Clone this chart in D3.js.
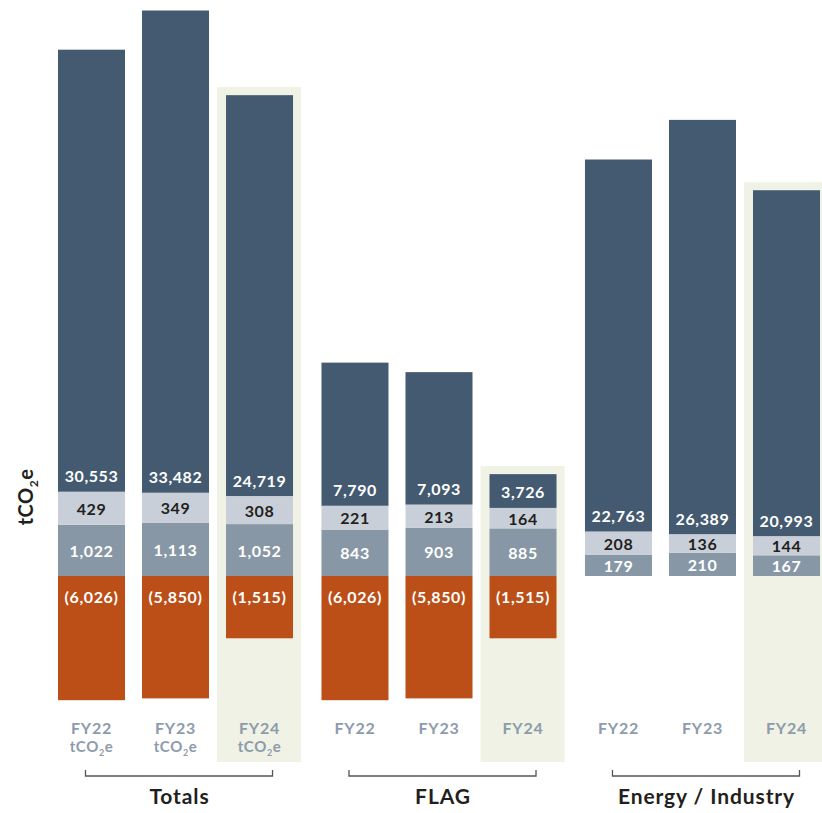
<!DOCTYPE html>
<html>
<head>
<meta charset="utf-8">
<script src="https://cdn.jsdelivr.net/npm/d3@7"></script>
<style>
  html, body { margin: 0; padding: 0; background: #ffffff; }
  svg { display: block; font-family: Lato, "Noto Sans", sans-serif; }
</style>
</head>
<body>
<script>
// Emission categories and reporting years
const groups = ["Totals", "FLAG", "Energy / Industry"];
const years = ["FY22", "FY23", "FY24"];
const highlightYear = "FY24";

// Values in tCO2e, ordered group by group (Totals, FLAG, Energy / Industry), FY22..FY24
const scope3 = [30553, 33482, 24719, 7790, 7093, 3726, 22763, 26389, 20993];
const scope2 = [429, 349, 308, 221, 213, 164, 208, 136, 144];
const scope1 = [1022, 1113, 1052, 843, 903, 885, 179, 210, 167];
const removals = [-6026, -5850, -1515, -6026, -5850, -1515, null, null, null];

const colors = {
  scope3: "#435a70",
  scope2: "#c9cfd8",
  scope1: "#8797a6",
  removals: "#bb4f17",
  highlight: "#eff2e4"
};

const W = 822, H = 813;
const zeroY = 576;
const bgBottom = 762;

const svg = d3.select("body").append("svg")
  .attr("width", W).attr("height", H);

// Horizontal layout: group bands, then year bands inside each group
const xGroup = d3.scaleBand().domain(groups).range([58, 820]).paddingInner(0.108).paddingOuter(0);
const xYear = d3.scaleBand().domain(years).range([0, xGroup.bandwidth()]).paddingInner(0.2024);

// Segment heights: large emissions on a piecewise scale, smaller ones on a root scale
const hLarge = d3.scaleLinear()
  .domain([0, 3700, 7000, 21000, 25000, 31000, 34000])
  .range([0, 33, 131, 346, 405, 445, 490]);
const hSmall = d3.scaleSqrt().domain([0, 10000]).range([0, 160]);

const fmt = d3.format(",");

const bars = scope3.map((_, i) => {
  const group = groups[Math.floor(i / years.length)];
  const year = years[i % years.length];
  const x = xGroup(group) + xYear(year);
  const segs = [];
  let y = zeroY;
  [["scope1", scope1[i], hSmall], ["scope2", scope2[i], hSmall], ["scope3", scope3[i], hLarge]]
    .forEach(([key, v, s]) => {
      const h = s(v);
      segs.push({ key, v, y0: y - h, y1: y });
      y -= h;
    });
  const neg = removals[i] == null ? null : { key: "removals", v: removals[i], y0: zeroY, y1: zeroY + hSmall(Math.abs(removals[i])) };
  return { group, year, x, segs, neg, top: y };
});

const bw = xYear.bandwidth();

// Highlight panels behind the latest year
svg.append("g").selectAll("rect")
  .data(bars.filter(d => d.year === highlightYear))
  .join("rect")
  .attr("x", d => d.x - 9)
  .attr("width", bw + 17)
  .attr("y", d => d.top - 8)
  .attr("height", d => bgBottom - (d.top - 8))
  .attr("fill", colors.highlight);

// Stacked bars
const barG = svg.append("g").selectAll("g").data(bars).join("g");
const segData = d => d.segs.concat(d.neg ? [d.neg] : []).map(s => Object.assign({ x: d.x }, s));

barG.selectAll("rect.seg")
  .data(segData)
  .join("rect")
  .attr("class", "seg")
  .attr("x", s => s.x)
  .attr("width", bw)
  .attr("y", s => s.y0)
  .attr("height", s => s.y1 - s.y0)
  .attr("fill", s => colors[s.key]);

// Value labels
barG.selectAll("text.val")
  .data(segData)
  .join("text")
  .attr("class", "val")
  .attr("text-anchor", "middle")
  .attr("dominant-baseline", "central")
  .attr("font-size", 16)
  .attr("font-weight", 700)
  .attr("letter-spacing", "0.6px")
  .attr("x", s => s.x + bw / 2)
  .attr("y", s => {
    if (s.key === "scope3") return s.y1 - 16;
    if (s.key === "removals") return s.y0 + 20;
    return (s.y0 + s.y1) / 2;
  })
  .attr("fill", s => s.key === "scope2" ? "#231f20" : "#ffffff")
  .text(s => s.v < 0 ? `(${fmt(-s.v)})` : fmt(s.v));

// Year labels under each bar
const yearG = svg.append("g").selectAll("g").data(bars).join("g");
yearG.append("text")
  .attr("x", d => d.x + bw / 2)
  .attr("y", 734)
  .attr("text-anchor", "middle")
  .attr("font-size", 16)
  .attr("font-weight", 700)
  .attr("letter-spacing", "0.8px")
  .attr("fill", "#8d9bab")
  .text(d => d.year);

// Unit line under the Totals years
const unitText = yearG.filter(d => d.group === groups[0]).append("text")
  .attr("x", d => d.x + bw / 2)
  .attr("y", 752)
  .attr("text-anchor", "middle")
  .attr("font-size", 15)
  .attr("font-weight", 700)
  .attr("letter-spacing", "0.6px")
  .attr("fill", "#8d9bab");
unitText.append("tspan").text("tCO");
unitText.append("tspan").attr("font-size", 9).attr("dy", 4).text("2");
unitText.append("tspan").attr("dy", -4).text("e");

// Group brackets and names
const groupG = svg.append("g").selectAll("g").data(groups).join("g");
groupG.append("path")
  .attr("d", g => {
    const a = xGroup(g) + xYear(years[0]) + bw / 2 - 6;
    const b = xGroup(g) + xYear(years[years.length - 1]) + bw / 2 + 13;
    return `M${a},770V776H${b}V770`;
  })
  .attr("fill", "none")
  .attr("stroke", "#555")
  .attr("stroke-width", 1.3);
groupG.append("text")
  .attr("x", g => xGroup(g) + xGroup.bandwidth() / 2 + 4)
  .attr("y", 804)
  .attr("text-anchor", "middle")
  .attr("font-size", 21)
  .attr("font-weight", 700)
  .attr("letter-spacing", "0.9px")
  .attr("fill", "#231f20")
  .text(g => g);

// Vertical unit title
const yTitle = svg.append("text")
  .attr("transform", "translate(33,497) rotate(-90)")
  .attr("text-anchor", "middle")
  .attr("font-size", 20)
  .attr("font-weight", 700)
  .attr("letter-spacing", "0.5px")
  .attr("fill", "#231f20");
yTitle.append("tspan").text("tCO");
yTitle.append("tspan").attr("font-size", 12).attr("dy", 5).text("2");
yTitle.append("tspan").attr("dy", -5).text("e");
</script>
</body>
</html>
